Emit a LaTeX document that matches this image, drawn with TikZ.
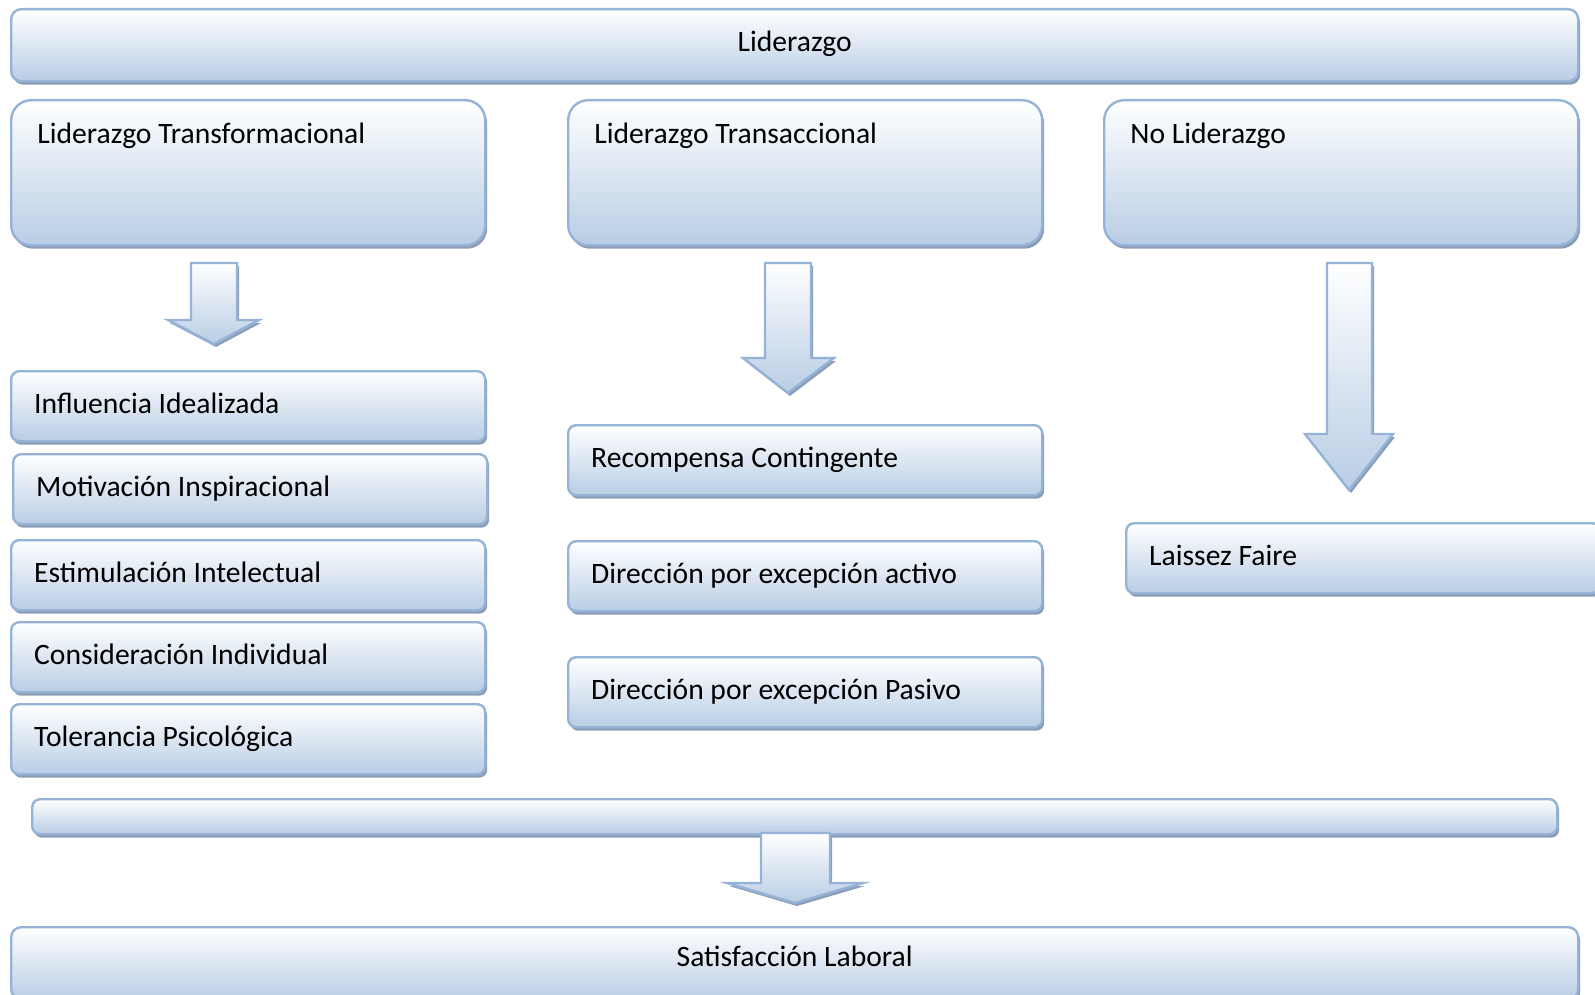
\documentclass[tikz,border=0pt]{standalone}
\usepackage{fontspec}
\setmainfont{Carlito}
\usetikzlibrary{shadows}
\definecolor{boxline}{RGB}{149,179,215}
\definecolor{boxblue}{RGB}{185,205,229}
\definecolor{shadowc}{RGB}{140,157,181}
\begin{document}
\begin{tikzpicture}[x=0.5pt,y=-0.5pt,
  every node/.style={font=\fontsize{14.8}{17}\selectfont},
  box/.style={draw=boxline, line width=1.2pt, top color=white, bottom color=boxblue,
    drop shadow={shadow xshift=1pt, shadow yshift=-1.75pt, fill=shadowc, opacity=1},
    anchor=north west, inner sep=0pt, text height=10pt, text depth=3pt},
  wide/.style={box, rounded corners=5pt, minimum width=783.5pt, minimum height=36pt},
  bigbox/.style={box, rounded corners=10pt, minimum width=237pt, minimum height=72.5pt},
  item/.style={box, rounded corners=4pt, minimum width=237pt, minimum height=35pt,
    text width=214pt, inner xsep=11.5pt, align=left,
    execute at begin node={\spaceskip=0pt\xspaceskip=0pt\relax}},
  lbl/.style={anchor=base west, inner sep=0pt},
  blockarrow/.style={draw=boxline, line width=1.2pt, top color=white, bottom color=boxblue,
    drop shadow={shadow xshift=1pt, shadow yshift=-1.5pt, fill=shadowc, opacity=1}}]
\useasboundingbox (0,0) rectangle (1595,995);

% top
\node[wide, text height=9pt] (lid) at (10,8) {Liderazgo};

% three kinds
\node[bigbox] (ltf) at (10,99) {};
\node[bigbox] (ltr) at (567,99) {};
\node[bigbox] (nol) at (1103,99) {};
\node[lbl] (ltft) at ([xshift=13.5pt,yshift=-22pt]ltf.north west) {Liderazgo Transformacional};
\node[lbl] (ltrt) at ([xshift=13.5pt,yshift=-22pt]ltr.north west) {Liderazgo Transaccional};
\node[lbl] (nolt) at ([xshift=13.5pt,yshift=-22pt]nol.north west) {No Liderazgo};

% arrows
\draw[blockarrow] (191,263) -- (237,263) -- (237,320) -- (259,320) -- (214,344)
  -- (168,320) -- (191,320) -- cycle;
\draw[blockarrow] (765,263) -- (811,263) -- (811,358) -- (834,358) -- (788,393)
  -- (743,358) -- (765,358) -- cycle;
\draw[blockarrow] (1327,263) -- (1372,263) -- (1372,434) -- (1393,434) -- (1349,490)
  -- (1305,434) -- (1327,434) -- cycle;

% transformacional
\node[item] (inf) at (10,370) {Influencia Idealizada};
\node[item] (mot) at (12,453) {Motivación Inspiracional};
\node[item] (est) at (10,539) {Estimulación Intelectual};
\node[item] (con) at (10,621) {Consideración Individual};
\node[item] (tol) at (10,703) {Tolerancia Psicológica};

% transaccional
\node[item] (rec) at (567,424) {Recompensa Contingente};
\node[item] (dac) at (567,540) {Dirección por excepción activo};
\node[item] (dpa) at (567,656) {Dirección por excepción Pasivo};

% no liderazgo
\node[item] (lai) at (1125,522) {Laissez Faire};

% bottom
\node[box, rounded corners=4pt, minimum width=762.5pt, minimum height=17.5pt,
  text height=0pt, text depth=0pt] (bar) at (31,798) {};
\draw[blockarrow] (761,833) -- (830,833) -- (830,883) -- (863,883) -- (795,903)
  -- (727,883) -- (761,883) -- cycle;
\node[wide, text height=6.5pt] (sat) at (10,926) {Satisfacción Laboral};

\end{tikzpicture}
\end{document}
